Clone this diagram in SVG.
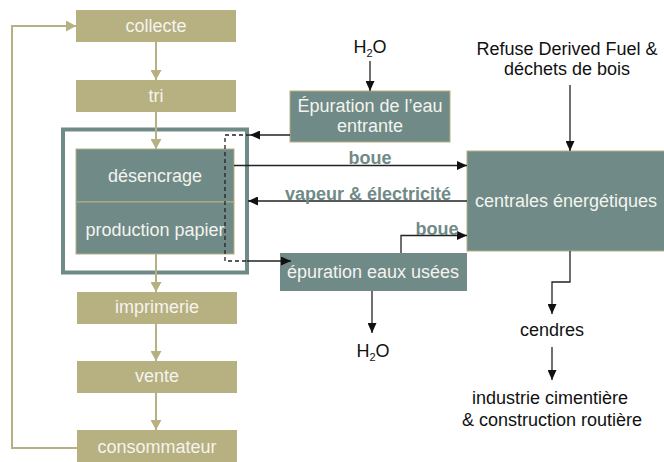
<svg xmlns="http://www.w3.org/2000/svg" width="664" height="462" viewBox="0 0 664 462">
<style>
.tan{fill:#b7b081;}
.teal{fill:#6f8a87;stroke:#b7b081;stroke-width:1;}
.wt{font-family:"Liberation Sans",Arial,sans-serif;font-size:18px;fill:#f4f4ee;text-anchor:middle;}
.bk{font-family:"Liberation Sans",Arial,sans-serif;font-size:18px;fill:#111;text-anchor:middle;}
.lb{font-family:"Liberation Sans",Arial,sans-serif;font-size:18px;font-weight:bold;fill:#6f8a87;text-anchor:middle;}
.tl{fill:none;stroke:#b7b081;stroke-width:2;}
.bl{fill:none;stroke:#222;stroke-width:1.3;}
.dl{fill:none;stroke:#222;stroke-width:1.3;stroke-dasharray:4 3;}
</style>
<defs>
<marker id="ab" markerUnits="userSpaceOnUse" markerWidth="10" markerHeight="9" refX="10" refY="4.5" orient="auto"><path d="M0,0 L10,4.5 L0,9 z" fill="#111"/></marker>
<marker id="at" markerUnits="userSpaceOnUse" markerWidth="11" markerHeight="11" refX="10" refY="5.5" orient="auto"><path d="M0,0 L10,5.5 L0,11 z" fill="#b7b081"/></marker>
</defs>
<rect width="664" height="462" fill="#fff"/>
<g id="frame"><rect x="63" y="129.5" width="184" height="143" fill="none" stroke="#6f8a87" stroke-width="4"/></g>
<g id="collecte"><rect class="tan" x="76" y="10" width="160" height="32"/><text class="wt" x="156" y="32">collecte</text></g>
<g id="tri"><rect class="tan" x="76" y="80" width="160" height="32"/><text class="wt" x="156" y="102">tri</text></g>
<g id="desencrage"><rect class="teal" x="76" y="149" width="158" height="53"/><text class="wt" x="155" y="182">désencrage</text></g>
<g id="production"><rect class="teal" x="76" y="202" width="158" height="52"/><text class="wt" x="155" y="236">production papier</text></g>
<g id="imprimerie"><rect class="tan" x="77" y="292" width="160" height="32"/><text class="wt" x="157" y="313">imprimerie</text></g>
<g id="vente"><rect class="tan" x="77" y="361" width="160" height="32"/><text class="wt" x="157" y="382">vente</text></g>
<g id="consommateur"><rect class="tan" x="77" y="430" width="160" height="32"/><text class="wt" x="157" y="453">consommateur</text></g>
<g id="epuration-entrante"><rect class="teal" x="290" y="91" width="160" height="51"/><text class="wt" x="370" y="112">Épuration de l’eau</text><text class="wt" x="370" y="132">entrante</text></g>
<g id="epuration-usees"><rect x="280" y="253" width="187" height="38" fill="#6f8a87"/><text class="wt" x="373" y="278">épuration eaux usées</text></g>
<g id="centrales"><rect class="teal" x="467" y="151" width="200" height="100"/><text class="wt" x="566" y="207">centrales énergétiques</text></g>
<g id="h2o-in"><text class="bk" x="370" y="53" font-size="17">H<tspan font-size="11" dy="4">2</tspan><tspan dy="-4">O</tspan></text></g>
<g id="h2o-out"><text class="bk" x="373" y="357" font-size="17">H<tspan font-size="11" dy="4">2</tspan><tspan dy="-4">O</tspan></text></g>
<g id="rdf"><text class="bk" x="567" y="55">Refuse Derived Fuel &amp;</text><text class="bk" x="567" y="75">déchets de bois</text></g>
<g id="cendres"><text class="bk" x="552" y="336">cendres</text></g>
<g id="industrie"><text class="bk" x="550" y="404">industrie cimentière</text><text class="bk" x="552" y="426">&amp; construction routière</text></g>
<g id="connectors">
<line class="tl" x1="156" y1="42" x2="156" y2="80" marker-end="url(#at)"/>
<line class="tl" x1="156" y1="112" x2="156" y2="149" marker-end="url(#at)"/>
<line class="tl" x1="156" y1="254" x2="156" y2="292" marker-end="url(#at)"/>
<line class="tl" x1="156" y1="324" x2="156" y2="361" marker-end="url(#at)"/>
<line class="tl" x1="156" y1="393" x2="156" y2="430" marker-end="url(#at)"/>
<polyline class="tl" points="77,448 12,448 12,26 76,26" marker-end="url(#at)"/>
<line class="bl" x1="370" y1="61" x2="370" y2="91" marker-end="url(#ab)"/>
<line class="bl" x1="290" y1="135" x2="250" y2="135" marker-end="url(#ab)"/>
<polyline class="dl" points="250,135 225,135 225,261 247,261"/>
<line class="bl" x1="247" y1="261" x2="291" y2="261" marker-end="url(#ab)"/>
<line class="bl" x1="234" y1="165.5" x2="467" y2="165.5" marker-end="url(#ab)"/>
<line class="bl" x1="467" y1="201" x2="248" y2="201" marker-end="url(#ab)"/>
<polyline class="bl" points="401,253 401,235.5 467,235.5" marker-end="url(#ab)"/>
<line class="bl" x1="570" y1="85" x2="570" y2="151" marker-end="url(#ab)"/>
<polyline class="bl" points="570,251 570,282 552,282 552,314" marker-end="url(#ab)"/>
<line class="bl" x1="552" y1="347" x2="552" y2="380" marker-end="url(#ab)"/>
<line class="bl" x1="372" y1="291" x2="372" y2="333" marker-end="url(#ab)"/>
<text class="lb" x="370" y="164">boue</text>
<text class="lb" x="368" y="200">vapeur &amp; électricité</text>
<text class="lb" x="437" y="235">boue</text>
</g>
</svg>
